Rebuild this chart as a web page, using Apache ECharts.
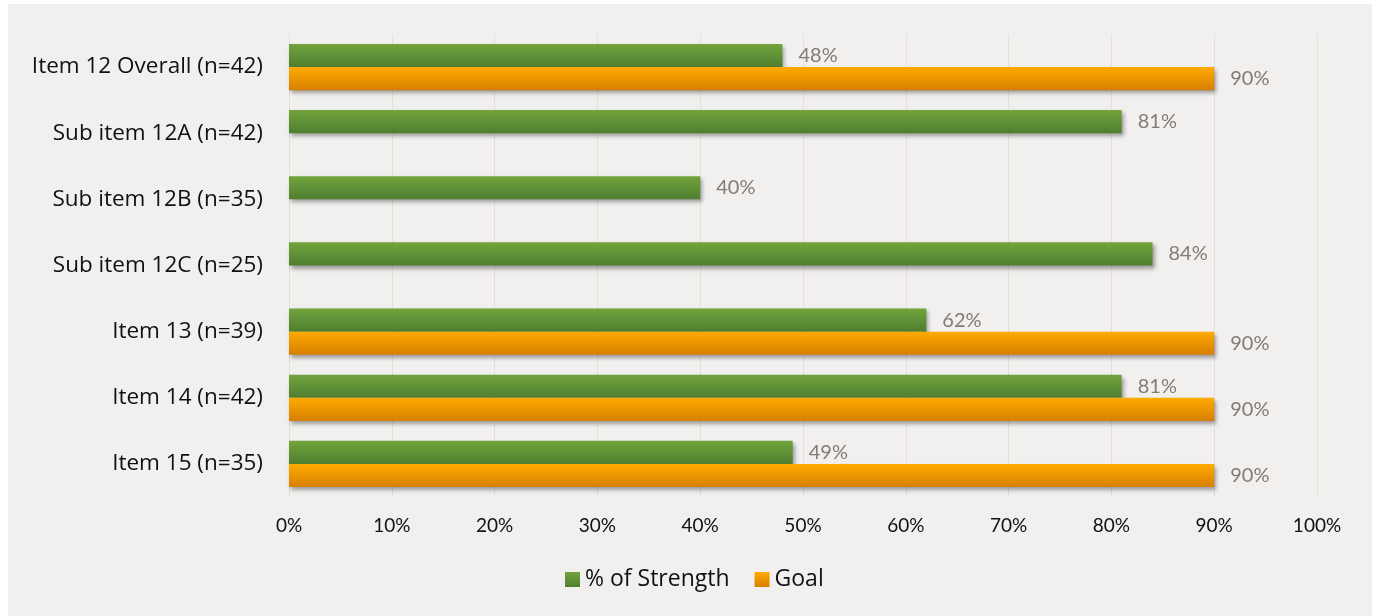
<!DOCTYPE html>
<html><head><meta charset="utf-8">
<script src="https://cdn.jsdelivr.net/npm/echarts@6/dist/echarts.min.js"></script>
<style>html,body{margin:0;padding:0;background:#fff}#c{width:1376px;height:616px}</style>
</head><body><div id="c"></div>
<script>
const categories = ["Item 12 Overall (n=42)","Sub item 12A (n=42)","Sub item 12B (n=35)","Sub item 12C (n=25)","Item 13 (n=39)","Item 14 (n=42)","Item 15 (n=35)"];
const strength = [48, 81, 40, 84, 62, 81, 49];
const goal = [90, null, null, null, 90, 90, 90];
const seriesNames = ["% of Strength", "Goal"];

const chart = echarts.init(document.getElementById('c'));
const grad = (a, b) => new echarts.graphic.LinearGradient(0, 0, 0, 1, [{offset: 0, color: a}, {offset: 1, color: b}]);
const barShadow = {shadowBlur: 4, shadowOffsetX: 2, shadowOffsetY: 3, shadowColor: 'rgba(0,0,0,0.35)'};
const lbl = {show: true, position: 'right', distance: 16, formatter: p => p.value + '%', color: '#857a74', fontSize: 20, fontFamily: 'Lato'};
chart.setOption({
  backgroundColor: '#ffffff',
  animation: false,
  graphic: [{type: 'rect', z: -10, left: 8, top: 4, shape: {width: 1364, height: 612}, style: {fill: '#f1f0ee'}}],
  grid: {left: 289, right: 59, top: 34, height: 463, containLabel: false},
  legend: {bottom: 20, left: 560, icon: 'rect', itemWidth: 15, itemHeight: 15, itemGap: 25,
    textStyle: {fontSize: 23, color: '#111', fontFamily: 'Open Sans'}, data: seriesNames},
  xAxis: {type: 'value', min: 0, max: 100, interval: 10,
    axisLabel: {formatter: '{value}%', fontSize: 19, color: '#111', fontFamily: 'Lato', margin: 19},
    axisLine: {show: false}, axisTick: {show: false},
    splitLine: {lineStyle: {color: '#e2dfdc', width: 1}}},
  yAxis: {type: 'category', data: categories, inverse: true,
    axisLine: {show: false}, axisTick: {show: false},
    axisLabel: {fontSize: 22.5, color: '#111', fontFamily: 'Open Sans', margin: 26}},
  series: [
    {name: seriesNames[0], type: 'bar', data: strength, barGap: '0%', barCategoryGap: '30%',
      itemStyle: Object.assign({color: grad('#72a43d', '#4f7e30')}, barShadow), label: lbl},
    {name: seriesNames[1], type: 'bar', data: goal,
      itemStyle: Object.assign({color: grad('#ffab00', '#d67f00')}, barShadow), label: lbl}
  ]
});
</script></body></html>
